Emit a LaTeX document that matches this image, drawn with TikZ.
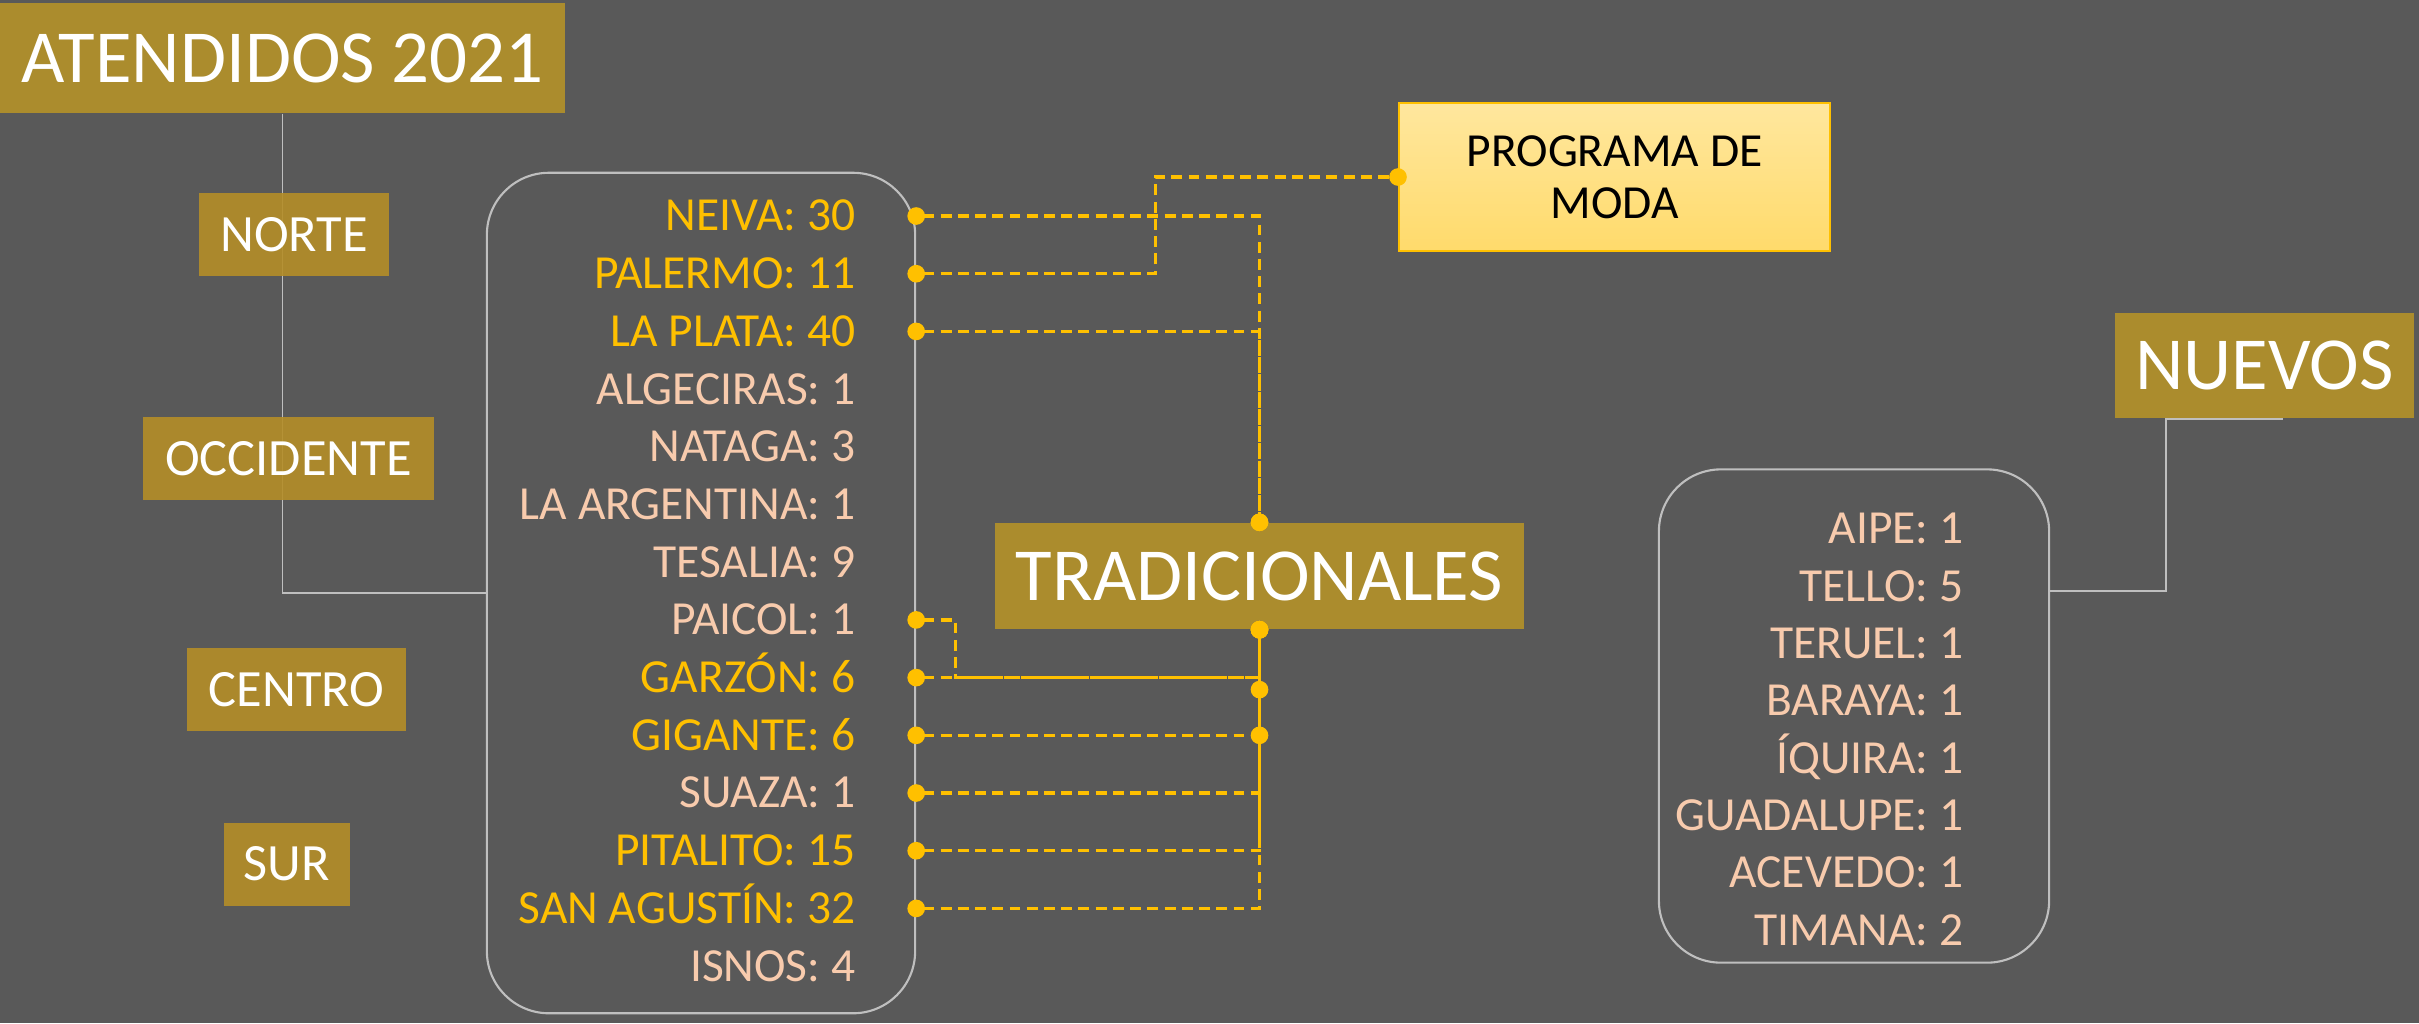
\documentclass[tikz,border=0pt]{standalone}
\usepackage{fontspec}
\setmainfont{Carlito}
\usepackage{tikz}
\usetikzlibrary{arrows.meta}
\definecolor{fondo}{HTML}{595959}
\definecolor{oro}{HTML}{AB8C2D}
\definecolor{oroclaro}{HTML}{B48E28}
\definecolor{amarillo}{HTML}{FFC000}
\definecolor{durazno}{HTML}{F8CBAD}
\definecolor{gris}{HTML}{BFBFBF}

\begin{document}
\begin{tikzpicture}[x=0.01cm,y=-0.01cm,
  caja/.style={rectangle,fill=oro,text=white,inner sep=0pt},
  grande/.style={caja,font=\fontsize{21.3}{25}\selectfont},
  zona/.style={caja,fill=oroclaro,fill opacity=.9,text opacity=1,minimum height=0.83cm,font=\fontsize{14.9}{18}\selectfont},
  lista/.style={rectangle,draw=gris,line width=0.6pt,rounded corners=0.62cm},
  item/.style={anchor=east,inner sep=0pt,text height=8.5pt,text depth=0pt,font=\fontsize{13.5}{16}\selectfont},
  resaltado/.style={item,text=amarillo},
  normal/.style={item,text=durazno},
  linea/.style={draw=gris,line width=0.5pt},
  enlace/.style={draw=amarillo,line width=0.9pt,dash pattern=on 3.1pt off 1.8pt,
    {Circle[length=5pt]}-{Circle[length=5pt]},shorten <=-2.5pt,shorten >=-2.5pt}]
\useasboundingbox (0,0) rectangle (2419,1023);
\fill [fondo] (0,0) rectangle (2419,1023);

\node at (282.5,58) [grande,minimum width=5.65cm,minimum height=1.1cm] (Titulo) {ATENDIDOS 2021};
\node at (701,593) [lista,minimum width=4.28cm,minimum height=8.4cm] (Lista) {};
\node at (1854,716) [lista,minimum width=3.9cm,minimum height=4.93cm] (ListaNuevos) {};
\coordinate (NuevosCodo) at (2166,591);

% conectores grises
\draw [linea] (Titulo.south) |- (Lista.west);

\node at (294,234.5) [zona,minimum width=1.9cm] (Norte) {NORTE};
\node at (288.5,458.5) [zona,minimum width=2.91cm] (Occidente) {OCCIDENTE};
\node at (296.5,689.5) [zona,minimum width=2.19cm] (Centro) {CENTRO};
\node at (287,864) [zona,minimum width=1.26cm] (Sur) {SUR};

\node at (1259.5,576) [grande,minimum width=5.29cm,minimum height=1.06cm] (Tradicionales) {TRADICIONALES};
\node at (2264.5,365.5) [grande,minimum width=2.99cm,minimum height=1.05cm] (Nuevos) {NUEVOS};
\node at (1614.5,177) [rectangle,draw=amarillo,line width=0.5pt,top color=amarillo!38,bottom color=amarillo!58,
  minimum width=4.31cm,minimum height=1.48cm,align=center,font=\fontsize{13.5}{14.8}\selectfont] (Programa) {PROGRAMA DE\\MODA};

\draw [linea] ([xshift=0.18cm]Nuevos.south) -- (Nuevos.south -| NuevosCodo) -- (NuevosCodo) -- (NuevosCodo -| ListaNuevos.east);

% municipios tradicionales
\node at (856,216) [resaltado] (Neiva) {NEIVA: 30};
\node at (856,273.7) [resaltado] (Palermo) {PALERMO: 11};
\node at (856,331.4) [resaltado] (LaPlata) {LA PLATA: 40};
\node at (856,389.1) [normal] (Algeciras) {ALGECIRAS: 1};
\node at (856,446.8) [normal] (Nataga) {NATAGA: 3};
\node at (856,504.5) [normal] (LaArgentina) {LA ARGENTINA: 1};
\node at (856,562.2) [normal] (Tesalia) {TESALIA: 9};
\node at (856,619.9) [normal] (Paicol) {PAICOL: 1};
\node at (856,677.6) [resaltado] (Garzon) {GARZÓN: 6};
\node at (856,735.3) [resaltado] (Gigante) {GIGANTE: 6};
\node at (856,793) [normal] (Suaza) {SUAZA: 1};
\node at (856,850.7) [resaltado] (Pitalito) {PITALITO: 15};
\node at (856,908.4) [resaltado] (SanAgustin) {SAN AGUSTÍN: 32};
\node at (856,966.1) [normal] (Isnos) {ISNOS: 4};

% municipios nuevos
\node at (1964,529) [normal] (Aipe) {AIPE: 1};
\node at (1964,586.3) [normal] (Tello) {TELLO: 5};
\node at (1964,643.6) [normal] (Teruel) {TERUEL: 1};
\node at (1964,700.9) [normal] (Baraya) {BARAYA: 1};
\node at (1964,758.2) [normal] (Iquira) {ÍQUIRA: 1};
\node at (1964,815.5) [normal] (Guadalupe) {GUADALUPE: 1};
\node at (1964,872.8) [normal] (Acevedo) {ACEVEDO: 1};
\node at (1964,930.1) [normal] (Timana) {TIMANA: 2};

% enlaces punteados
\draw [enlace] (Neiva -| Lista.east) -| (Tradicionales.north);
\draw [enlace] (Palermo -| Lista.east) -- ++(239,0) |- (Programa.west);
\draw [enlace] (LaPlata -| Lista.east) -| (Tradicionales.north);
\draw [enlace] (Paicol -| Lista.east) -- ++(39,0) |- (Garzon -| Tradicionales.south) -- (Tradicionales.south);
\draw [enlace] (Garzon -| Lista.east) -- (Garzon -| Tradicionales.south) -- ++(0,12);
\draw [enlace] (Gigante -| Lista.east) -- (Gigante -| Tradicionales.south);
\draw [enlace] (Suaza -| Lista.east) -| (Tradicionales.south);
\draw [enlace] (Pitalito -| Lista.east) -| (Tradicionales.south);
\draw [enlace] (SanAgustin -| Lista.east) -| (Tradicionales.south);

\end{tikzpicture}
\end{document}
